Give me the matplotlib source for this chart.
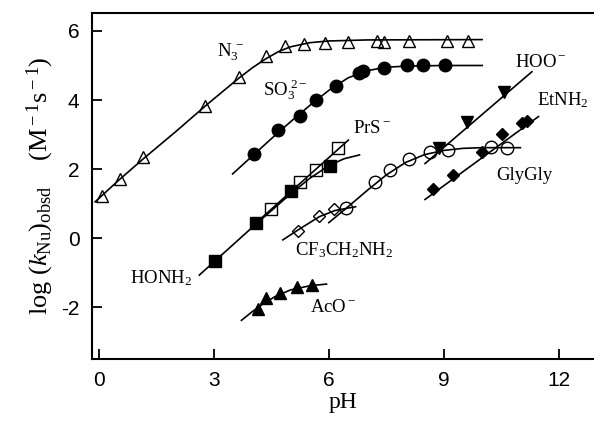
import matplotlib
matplotlib.use("Agg")
import matplotlib.pyplot as plt

plt.rcParams['font.family'] = ['Liberation Serif', 'DejaVu Serif']
plt.rcParams['mathtext.fontset'] = 'custom'
plt.rcParams['mathtext.rm'] = 'Liberation Serif'
plt.rcParams['mathtext.it'] = 'Liberation Serif:italic'
plt.rcParams['axes.unicode_minus'] = False

# measured points (pH, log k)
n3_x = [0.07, 0.55, 1.14, 2.78, 3.66, 4.35, 4.86, 5.35, 5.90, 6.51, 7.25, 7.45, 8.08, 9.08, 9.64]
n3_y = [1.22, 1.71, 2.34, 3.83, 4.68, 5.28, 5.55, 5.62, 5.66, 5.68, 5.70, 5.69, 5.72, 5.72, 5.72]
so3_x = [4.05, 4.67, 5.24, 5.67, 6.20, 6.78, 6.88, 7.43, 8.03, 8.47, 9.03]
so3_y = [2.43, 3.12, 3.53, 4.00, 4.41, 4.77, 4.85, 4.92, 5.00, 5.00, 5.00]
prs_x = [4.50, 5.24, 5.66, 6.25]
prs_y = [0.83, 1.63, 1.97, 2.60]
honh2_x = [3.03, 4.10, 5.02, 6.03]
honh2_y = [-0.66, 0.43, 1.36, 2.09]
cf3_x = [5.19, 5.75, 6.14]
cf3_y = [0.21, 0.63, 0.83]
gly_x = [6.45, 7.21, 7.60, 8.08, 8.64, 9.12, 10.23, 10.65]
gly_y = [0.86, 1.62, 1.97, 2.30, 2.50, 2.55, 2.63, 2.62]
hoo_x = [8.87, 9.60, 10.56]
hoo_y = [2.60, 3.37, 4.24]
et_x = [8.73, 9.25, 9.99, 10.51, 11.03, 11.17]
et_y = [1.43, 1.83, 2.50, 3.01, 3.32, 3.40]
aco_x = [4.16, 4.37, 4.73, 5.16, 5.57]
aco_y = [-2.04, -1.74, -1.58, -1.41, -1.36]

# fitted curves
n3_fx = [-0.1, 0.5, 1.14, 2.0, 2.78, 3.3, 3.66, 4.0, 4.35, 4.7, 5.0, 5.5, 6.0, 7.0, 10.0]
n3_fy = [1.05, 1.66, 2.28, 3.08, 3.83, 4.31, 4.64, 4.93, 5.19, 5.41, 5.54, 5.66, 5.71, 5.74, 5.75]
so3_fx = [3.49, 4.5, 5.0, 5.5, 6.0, 6.5, 7.0, 7.5, 8.0, 9.0, 10.0]
so3_fy = [1.86, 2.88, 3.37, 3.84, 4.28, 4.64, 4.85, 4.95, 4.98, 5.0, 5.0]
honh2_fx = [2.62, 4.0, 5.0, 5.5, 6.0, 6.4, 6.8]
honh2_fy = [-1.07, 0.31, 1.28, 1.73, 2.10, 2.30, 2.41]
prs_fx = [4.2, 6.51]
prs_fy = [0.54, 2.84]
cf3_fx = [4.8, 5.2, 5.75, 6.16, 6.7]
cf3_fy = [-0.05, 0.24, 0.62, 0.80, 0.91]
gly_fx = [6.0, 6.45, 7.0, 7.5, 8.0, 8.5, 9.0, 9.5, 10.0, 11.0]
gly_fy = [0.45, 0.86, 1.38, 1.83, 2.19, 2.42, 2.54, 2.60, 2.62, 2.62]
hoo_fx = [8.51, 11.30]
hoo_fy = [2.16, 4.82]
et_fx = [8.51, 11.47]
et_fy = [1.12, 3.52]
aco_fx = [3.72, 4.0, 4.3, 4.6, 5.0, 5.5, 5.94]
aco_fy = [-2.38, -2.13, -1.89, -1.69, -1.50, -1.38, -1.33]

labels = [
    (r'N$_3^{\rm \ -}$', 3.07, 5.25),
    (r'SO$_3^{\rm \ 2-}$', 4.27, 4.12),
    (r'PrS$^{\rm -}$', 6.64, 3.05),
    (r'HOO$^{\rm -}$', 10.86, 4.97),
    (r'EtNH$_{\rm 2}$', 11.43, 3.86),
    ('GlyGly', 10.38, 1.68),
    (r'CF$_{\rm 3}$CH$_{\rm 2}$NH$_{\rm 2}$', 5.12, -0.49),
    (r'HONH$_{\rm 2}$', 0.81, -1.31),
    (r'AcO$^{\rm -}$', 5.51, -2.14),
]

fig = plt.figure(figsize=(5.94, 4.24), dpi=100)
ax = fig.add_axes([92 / 594, 65 / 424, 502 / 594, 346 / 424])

for fx, fy in [(n3_fx, n3_fy), (so3_fx, so3_fy), (honh2_fx, honh2_fy), (prs_fx, prs_fy),
               (cf3_fx, cf3_fy), (gly_fx, gly_fy), (hoo_fx, hoo_fy), (et_fx, et_fy),
               (aco_fx, aco_fy)]:
    ax.plot(fx, fy, color='black', lw=1.2)

kw = dict(ls='none', mec='black', mew=1.0)
ax.plot(n3_x, n3_y, marker='^', ms=9, mfc='none', **kw)
ax.plot(so3_x, so3_y, marker='o', ms=9, mfc='black', **kw)
ax.plot(prs_x, prs_y, marker='s', ms=8, mfc='none', **kw)
ax.plot(honh2_x, honh2_y, marker='s', ms=8, mfc='black', **kw)
ax.plot(cf3_x, cf3_y, marker='D', ms=6.5, mfc='none', **kw)
ax.plot(gly_x, gly_y, marker='o', ms=9, mfc='none', **kw)
ax.plot(hoo_x, hoo_y, marker='v', ms=9, mfc='black', **kw)
ax.plot(et_x, et_y, marker='D', ms=6.5, mfc='black', **kw)
ax.plot(aco_x, aco_y, marker='^', ms=9, mfc='black', **kw)

for txt, lx, ly in labels:
    ax.text(lx, ly, txt, fontsize=13.5, ha='left', va='baseline')

ax.set_xlim(-0.18, 12.92)
ax.set_ylim(-3.5, 6.52)
ax.set_xticks([0, 3, 6, 9, 12])
ax.set_yticks([-2, 0, 2, 4, 6])
ax.spines['right'].set_visible(False)
for s in ['left', 'top', 'bottom']:
    ax.spines[s].set_linewidth(1.5)
ax.tick_params(direction='in', length=7, width=1.3, pad=9, labelsize=15)
for lab in ax.get_xticklabels() + ax.get_yticklabels():
    lab.set_family('Liberation Sans')

ax.set_xlabel('pH', fontsize=17, labelpad=1)
ax.set_ylabel(r'log ($k_{\rm Nu}$)$_{\rm obsd}$    (M$^{\rm -1}$s$^{\rm -1}$)', fontsize=19, labelpad=4)

fig.savefig('out.png', dpi=100)
